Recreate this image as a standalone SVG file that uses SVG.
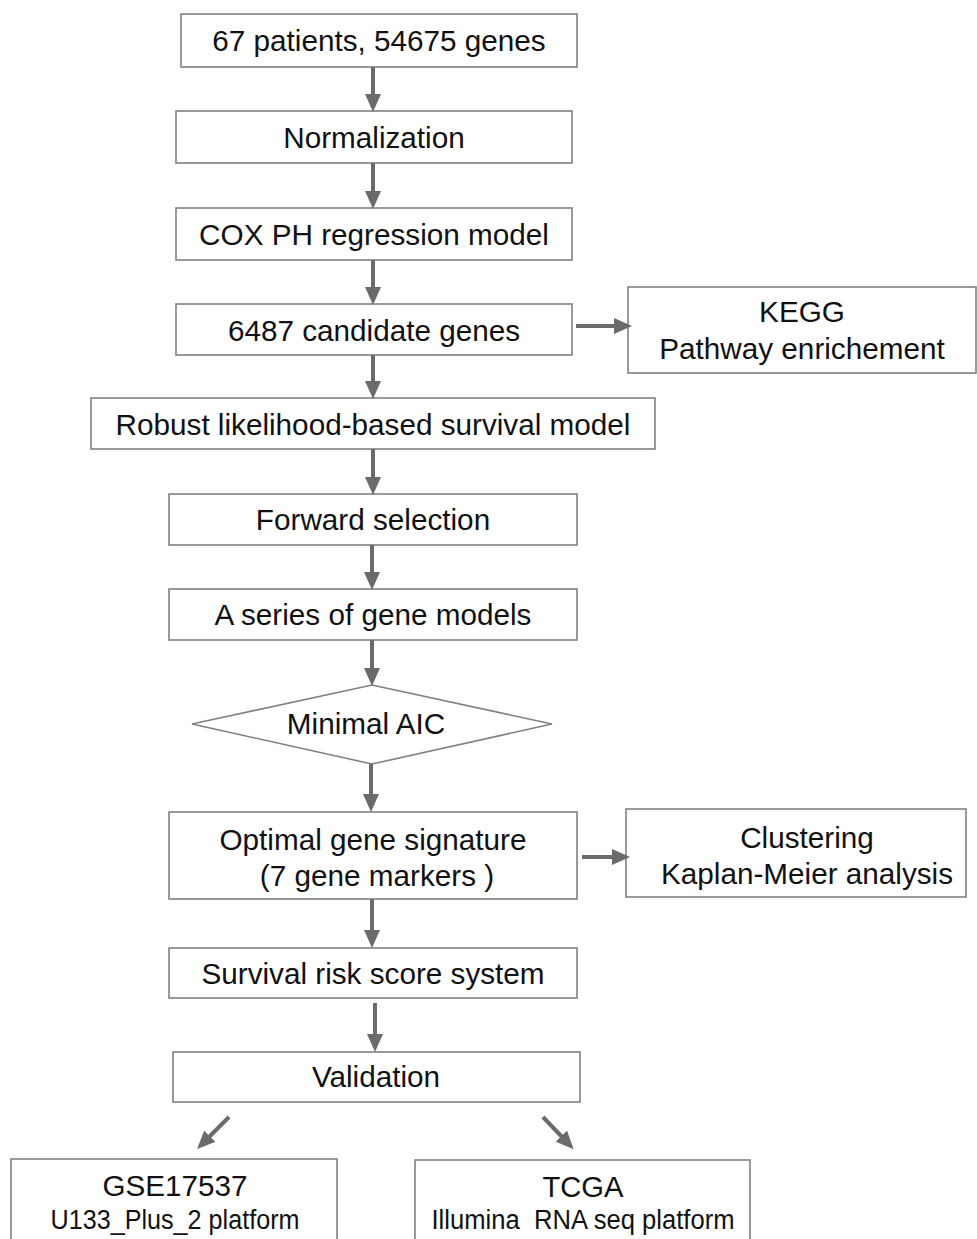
<svg xmlns="http://www.w3.org/2000/svg" width="977" height="1239" viewBox="0 0 977 1239">
<style>
.b{fill:#fff;stroke:#808080;stroke-width:1.6}
.t{font-family:"Liberation Sans",Arial,sans-serif;font-size:29.7px;fill:#111;text-anchor:middle}
.s{font-family:"Liberation Sans",Arial,sans-serif;font-size:27px;fill:#111;text-anchor:middle}
.c line{stroke:#6b6b6b;stroke-width:4}
</style>
<defs>
<marker id="a" markerWidth="4.5" markerHeight="4" refX="1" refY="2" orient="auto" markerUnits="strokeWidth">
<path d="M0,0 L4.5,2 L0,4 Z" fill="#6b6b6b"/>
</marker>
</defs>
<rect width="977" height="1239" fill="#fff"/>
<g id="n1"><rect class="b" x="181" y="14" width="396" height="53"/><text class="t" x="379" y="51">67 patients, 54675 genes</text></g>
<g id="n2"><rect class="b" x="176" y="111" width="396" height="52"/><text class="t" x="374" y="148">Normalization</text></g>
<g id="n3"><rect class="b" x="176" y="208" width="396" height="52"/><text class="t" x="374" y="245">COX PH regression model</text></g>
<g id="n4"><rect class="b" x="176" y="304" width="396" height="51"/><text class="t" x="374" y="341">6487 candidate genes</text></g>
<g id="n5"><rect class="b" x="628" y="287" width="348" height="86"/><text class="t" x="802" y="322">KEGG</text><text class="t" x="802" y="359">Pathway enrichement</text></g>
<g id="n6"><rect class="b" x="91" y="398" width="564" height="51"/><text class="t" x="373" y="435">Robust likelihood-based survival model</text></g>
<g id="n7"><rect class="b" x="169" y="494" width="408" height="51"/><text class="t" x="373" y="530">Forward selection</text></g>
<g id="n8"><rect class="b" x="169" y="589" width="408" height="51"/><text class="t" x="373" y="625">A series of gene models</text></g>
<g id="n9"><polygon class="b" points="372,685 552,724 372,764 192,724" stroke-width="2.2"/><text class="t" x="366" y="734">Minimal AIC</text></g>
<g id="n10"><rect class="b" x="169" y="812" width="408" height="87"/><text class="t" x="373" y="850">Optimal gene signature</text><text class="t" x="377" y="886">(7 gene markers )</text></g>
<g id="n11"><rect class="b" x="626" y="809" width="340" height="88"/><text class="t" x="807" y="848">Clustering</text><text class="t" x="807" y="884">Kaplan-Meier analysis</text></g>
<g id="n12"><rect class="b" x="169" y="948" width="408" height="50"/><text class="t" x="373" y="984">Survival risk score system</text></g>
<g id="n13"><rect class="b" x="173" y="1052" width="407" height="50"/><text class="t" x="376" y="1087">Validation</text></g>
<g id="n14"><rect class="b" x="11" y="1159" width="326" height="90"/><text class="t" x="175" y="1196" textLength="145" lengthAdjust="spacingAndGlyphs">GSE17537</text><text class="s" x="175" y="1229" textLength="249" lengthAdjust="spacingAndGlyphs">U133_Plus_2 platform</text></g>
<g id="n15"><rect class="b" x="415" y="1160" width="335" height="90"/><text class="t" x="583" y="1197" textLength="81" lengthAdjust="spacingAndGlyphs">TCGA</text><text class="s" x="583" y="1229" textLength="303" lengthAdjust="spacingAndGlyphs" xml:space="preserve">Illumina  RNA seq platform</text></g>
<g id="connectors" class="c">
<line x1="373" y1="67" x2="373" y2="98" marker-end="url(#a)"/>
<line x1="373" y1="163" x2="373" y2="195" marker-end="url(#a)"/>
<line x1="373" y1="260" x2="373" y2="291" marker-end="url(#a)"/>
<line x1="373" y1="355" x2="373" y2="385" marker-end="url(#a)"/>
<line x1="373" y1="449" x2="373" y2="481" marker-end="url(#a)"/>
<line x1="372" y1="545" x2="372" y2="576" marker-end="url(#a)"/>
<line x1="372" y1="640" x2="372" y2="672" marker-end="url(#a)"/>
<line x1="371" y1="764" x2="371" y2="798" marker-end="url(#a)"/>
<line x1="372" y1="899" x2="372" y2="934" marker-end="url(#a)"/>
<line x1="375" y1="1003" x2="375" y2="1038" marker-end="url(#a)"/>
<line x1="576" y1="326" x2="618" y2="326" marker-end="url(#a)"/>
<line x1="582" y1="857" x2="616" y2="857" marker-end="url(#a)"/>
<line x1="229" y1="1117" x2="207" y2="1139" marker-end="url(#a)"/>
<line x1="543" y1="1117" x2="564" y2="1139" marker-end="url(#a)"/>
</g>
</svg>
